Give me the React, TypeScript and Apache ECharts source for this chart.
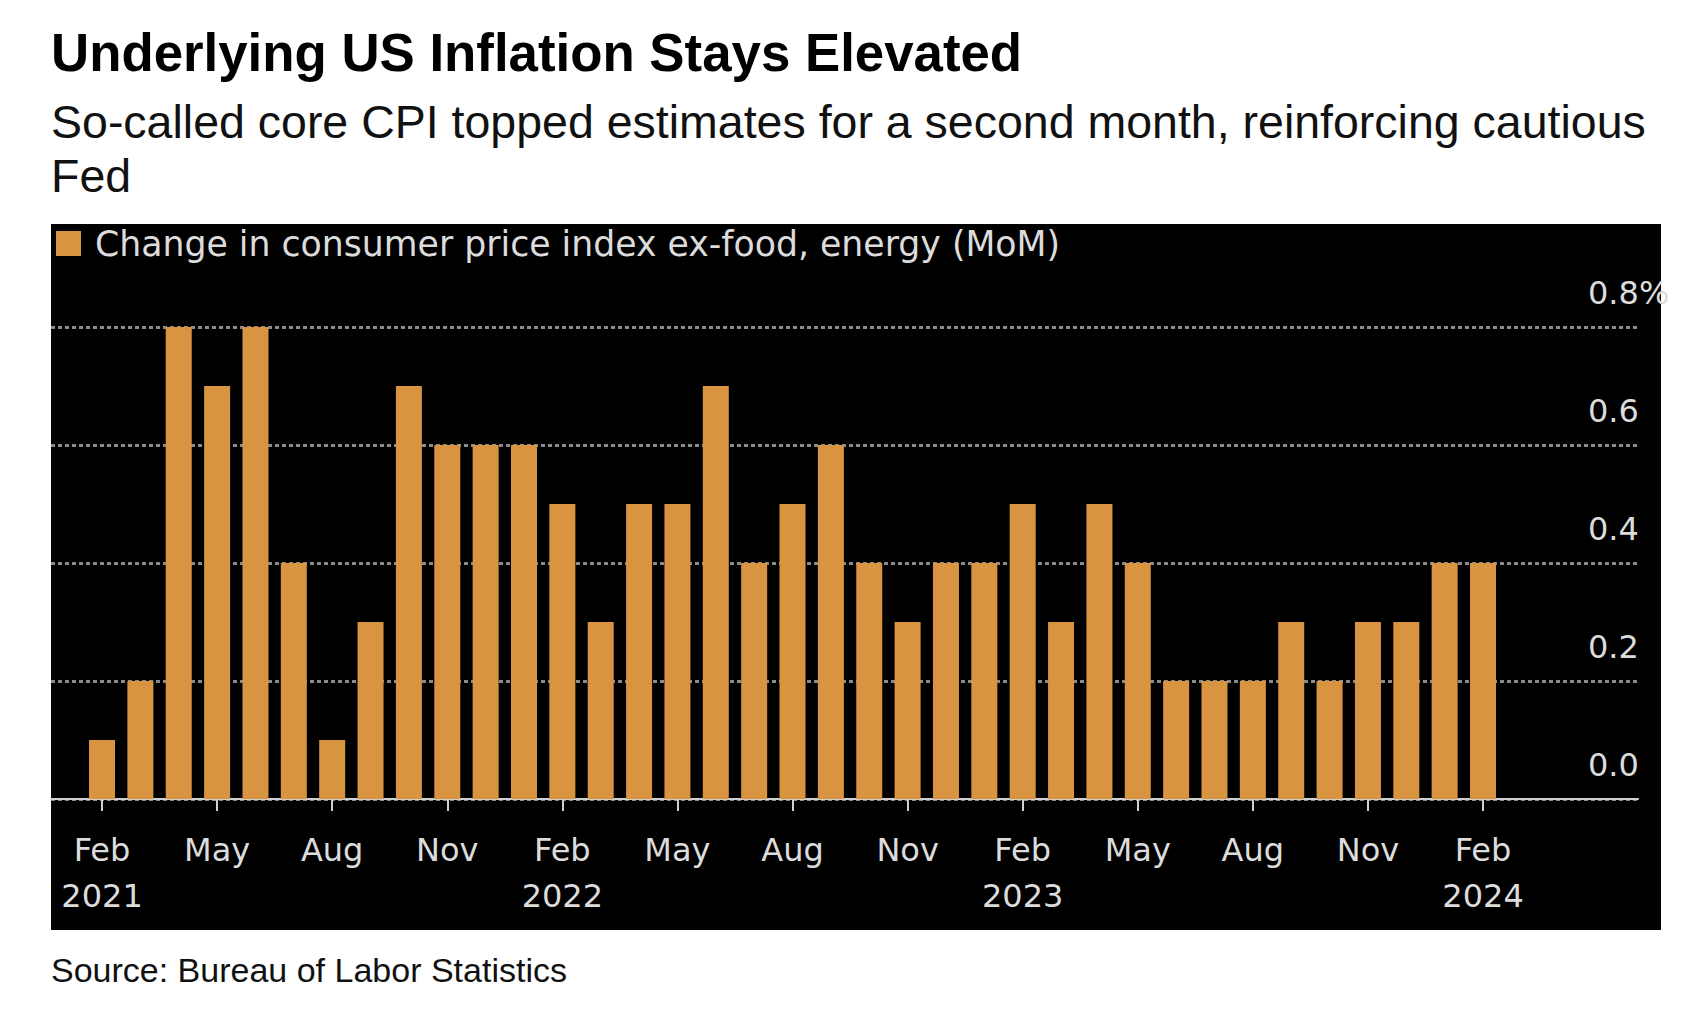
import React, { useEffect, useRef } from "react";
import * as echarts from "echarts";

const TITLE = "Underlying US Inflation Stays Elevated";
const SUBTITLE = "So-called core CPI topped estimates for a second month, reinforcing cautious\nFed";
const SOURCE = "Source: Bureau of Labor Statistics";
const SERIES_NAME = "Change in consumer price index ex-food, energy (MoM)";

const months = [
  "Feb 2021", "Mar 2021", "Apr 2021", "May 2021", "Jun 2021", "Jul 2021", "Aug 2021", "Sep 2021", "Oct 2021", "Nov 2021", "Dec 2021",
  "Jan 2022", "Feb 2022", "Mar 2022", "Apr 2022", "May 2022", "Jun 2022", "Jul 2022", "Aug 2022", "Sep 2022", "Oct 2022", "Nov 2022", "Dec 2022",
  "Jan 2023", "Feb 2023", "Mar 2023", "Apr 2023", "May 2023", "Jun 2023", "Jul 2023", "Aug 2023", "Sep 2023", "Oct 2023", "Nov 2023", "Dec 2023",
  "Jan 2024", "Feb 2024",
];

const coreCpiMoM = [
  0.1, 0.2, 0.8, 0.7, 0.8, 0.4, 0.1, 0.3, 0.7, 0.6, 0.6,
  0.6, 0.5, 0.3, 0.5, 0.5, 0.7, 0.4, 0.5, 0.6, 0.4, 0.3, 0.4,
  0.4, 0.5, 0.3, 0.5, 0.4, 0.2, 0.2, 0.2, 0.3, 0.2, 0.3, 0.3,
  0.4, 0.4,
];

const tickMonths = ["Feb", "May", "Aug", "Nov"];
const yTicks = [0, 0.2, 0.4, 0.6, 0.8];

const ORANGE = "#d99441";
const LABEL = "#dcdcdc";

export default function App() {
  const ref = useRef<HTMLDivElement>(null);

  useEffect(() => {
    if (!ref.current) return;
    const chart = echarts.init(ref.current, null, { renderer: "svg" });

    const tickIdx = months
      .map((m, i) => (tickMonths.includes(m.split(" ")[0]) ? i : -1))
      .filter((i) => i >= 0);

    chart.setOption({
      animation: false,
      backgroundColor: "#ffffff",
      title: [
        {
          text: TITLE,
          left: 51,
          top: 22,
          padding: 0,
          textStyle: { fontFamily: "Liberation Sans", fontWeight: "bold", fontSize: 52.8, lineHeight: 60, color: "#000" },
        },
        {
          text: SUBTITLE,
          left: 51,
          top: 95,
          padding: 0,
          textStyle: { fontFamily: "Liberation Sans", fontWeight: "normal", fontSize: 46.5, lineHeight: 54, color: "#111" },
        },
        {
          text: SOURCE,
          left: 51,
          top: 950,
          padding: 0,
          textStyle: { fontFamily: "Liberation Sans", fontWeight: "normal", fontSize: 34, lineHeight: 40, color: "#111" },
        },
      ],
      graphic: [
        {
          type: "rect",
          z: -100,
          silent: true,
          shape: { x: 51, y: 224, width: 1610, height: 706 },
          style: { fill: "#000" },
        },
      ],
      legend: {
        left: 56,
        top: 226,
        padding: 0,
        itemWidth: 25,
        itemHeight: 25,
        icon: "rect",
        data: [SERIES_NAME],
        textStyle: { fontFamily: "DejaVu Sans", fontSize: 34.7, color: LABEL, padding: [0, 0, 0, 9] },
      },
      grid: { left: 51, right: 62, top: 327, bottom: 232, containLabel: false },
      xAxis: {
        type: "value",
        min: -1.33,
        max: 40.04,
        splitLine: { show: false },
        axisLine: { show: true, lineStyle: { color: "#d0d0d0", width: 2 } },
        axisTick: {
          show: true,
          customValues: tickIdx,
          length: 12,
          lineStyle: { color: "#d0d0d0", width: 2 },
        },
        axisLabel: {
          customValues: tickIdx,
          margin: 28,
          fontFamily: "DejaVu Sans",
          fontSize: 32,
          lineHeight: 46,
          color: LABEL,
          formatter: (v: number) => {
            const m = months[Math.round(v)];
            if (!m) return "";
            const [mon, yr] = m.split(" ");
            return mon === "Feb" ? mon + "\n" + yr : mon;
          },
        },
      },
      yAxis: {
        type: "value",
        position: "right",
        min: yTicks[0],
        max: yTicks[yTicks.length - 1],
        interval: 0.2,
        axisLine: { show: false },
        axisTick: { show: false },
        splitLine: { show: true, lineStyle: { color: "#8a8a8a", width: 3, type: [4, 3] } },
        axisLabel: {
          margin: -50,
          align: "left",
          verticalAlign: "bottom",
          lineHeight: 68,
          fontFamily: "DejaVu Sans",
          fontSize: 32,
          color: LABEL,
          formatter: (v: number) => (Math.abs(v - 0.8) < 1e-9 ? "0.8%" : v.toFixed(1)),
        },
      },
      series: [
        {
          name: SERIES_NAME,
          type: "bar",
          barWidth: 26,
          itemStyle: { color: ORANGE },
          data: coreCpiMoM.map((v, i) => [i, v]),
        },
      ],
    });

    return () => chart.dispose();
  }, []);

  return (
    <div
      ref={ref}
      style={{ position: "fixed", left: 0, top: 0, width: 1700, height: 1031 }}
    />
  );
}
